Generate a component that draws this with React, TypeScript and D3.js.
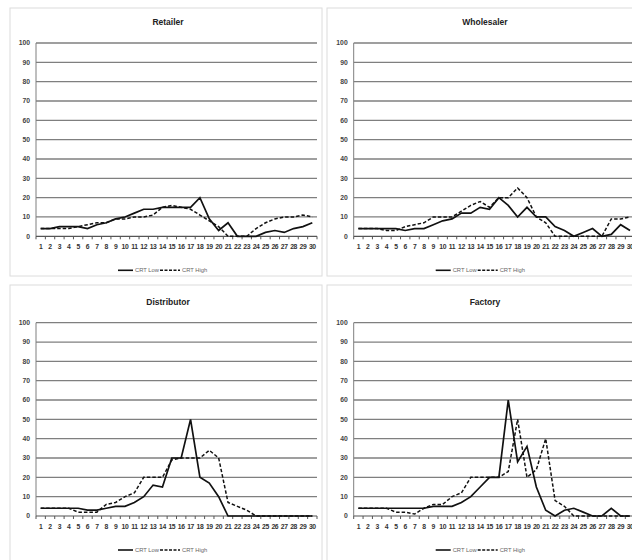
import React, { useRef, useEffect } from 'react';
import * as d3 from 'd3';

const PERIODS = [1, 2, 3, 4, 5, 6, 7, 8, 9, 10, 11, 12, 13, 14, 15, 16, 17, 18, 19, 20, 21, 22, 23, 24, 25, 26, 27, 28, 29, 30];
const Y_TICKS = [0, 10, 20, 30, 40, 50, 60, 70, 80, 90, 100];

const retailerLow = [4, 4, 5, 5, 5, 4, 6, 7, 9, 10, 12, 14, 14, 15, 15, 15, 15, 20, 9, 3, 7, 0, 0, 0, 2, 3, 2, 4, 5, 7];
const retailerHigh = [4, 4, 4, 4, 5, 6, 7, 7, 9, 9, 10, 10, 11, 15, 16, 15, 14, 11, 8, 5, 0, 0, 0, 4, 7, 9, 10, 10, 11, 10];

const wholesalerLow = [4, 4, 4, 4, 4, 3, 4, 4, 6, 8, 9, 12, 12, 15, 14, 20, 16, 10, 15, 10, 10, 5, 3, 0, 2, 4, 0, 1, 6, 3];
const wholesalerHigh = [4, 4, 4, 3, 3, 5, 6, 7, 10, 10, 10, 13, 16, 18, 15, 20, 20, 25, 20, 10, 7, 0, 0, 0, 0, 0, 0, 9, 9, 10];

const distributorLow = [4, 4, 4, 4, 4, 3, 3, 4, 5, 5, 7, 10, 16, 15, 30, 30, 50, 20, 17, 10, 0, 0, 0, 0, 0, 0, 0, 0, 0, 0];
const distributorHigh = [4, 4, 4, 4, 2, 2, 2, 6, 7, 10, 12, 20, 20, 20, 29, 30, 30, 30, 34, 30, 7, 5, 3, 0, 0, 0, 0, 0, 0, 0];

const factoryLow = [4, 4, 4, 4, 4, 4, 4, 4, 5, 5, 5, 7, 10, 15, 20, 20, 60, 28, 36, 15, 3, 0, 3, 4, 2, 0, 0, 4, 0, 0];
const factoryHigh = [4, 4, 4, 4, 2, 2, 1, 4, 6, 6, 10, 12, 20, 20, 20, 20, 23, 50, 20, 24, 40, 8, 5, 0, 0, 0, 0, 0, 0, 0];

const PANELS = [
  { title: 'Retailer', low: retailerLow, high: retailerHigh, box: [10, 8, 268], plot: [36, 43] },
  { title: 'Wholesaler', low: wholesalerLow, high: wholesalerHigh, box: [327, 8, 268], plot: [353.7, 43] },
  { title: 'Distributor', low: distributorLow, high: distributorHigh, box: [10, 285, 290], plot: [36, 322.7] },
  { title: 'Factory', low: factoryLow, high: factoryHigh, box: [327, 285, 290], plot: [353.7, 322.7] },
];

const FONT = 'Liberation Sans, Arial, sans-serif';

export default function App() {
  const svgRef = useRef<SVGSVGElement>(null);

  useEffect(() => {
    const svg = d3.select(svgRef.current);
    svg.selectAll('*').remove();

    svg.append('rect').attr('width', 632).attr('height', 560).attr('fill', 'white');

    PANELS.forEach(p => {
      const [bx, by, bh] = p.box;
      const [left, top] = p.plot;
      const plotW = 281;
      const plotH = 193.3;
      const bottom = top + plotH;

      svg.append('rect')
        .attr('x', bx).attr('y', by)
        .attr('width', 312).attr('height', bh)
        .attr('fill', 'none')
        .attr('stroke', '#dcdcdc')
        .attr('stroke-width', 1);

      const g = svg.append('g');

      const x = d3.scaleBand<number>().domain(PERIODS).range([left, left + plotW]);
      const cx = (d: number) => (x(d) as number) + x.bandwidth() / 2;
      const y = d3.scaleLinear().domain([0, 100]).range([bottom, top]);

      // gridlines
      g.append('g')
        .selectAll('line')
        .data(Y_TICKS.filter(t => t > 0))
        .join('line')
        .attr('x1', left).attr('x2', left + plotW)
        .attr('y1', d => y(d)).attr('y2', d => y(d))
        .attr('stroke', '#7f7f7f')
        .attr('stroke-width', 1.3);

      // y axis
      g.append('line')
        .attr('x1', left).attr('x2', left)
        .attr('y1', top).attr('y2', bottom)
        .attr('stroke', '#7f7f7f').attr('stroke-width', 1);

      g.append('g')
        .selectAll('text')
        .data(Y_TICKS)
        .join('text')
        .attr('x', left - 6)
        .attr('y', d => y(d))
        .attr('dy', '0.35em')
        .attr('text-anchor', 'end')
        .attr('font-size', 6.8)
        .attr('font-weight', 'bold')
        .attr('font-family', FONT)
        .attr('fill', '#444')
        .text(d => d);

      // x axis
      g.append('line')
        .attr('x1', left).attr('x2', left + plotW)
        .attr('y1', bottom).attr('y2', bottom)
        .attr('stroke', '#555').attr('stroke-width', 1.2);

      const edges = [left, ...PERIODS.map(d => (x(d) as number) + x.bandwidth())];
      g.append('g')
        .selectAll('line')
        .data(edges)
        .join('line')
        .attr('x1', d => d).attr('x2', d => d)
        .attr('y1', bottom).attr('y2', bottom + 3)
        .attr('stroke', '#555').attr('stroke-width', 1);

      g.append('g')
        .selectAll('text')
        .data(PERIODS)
        .join('text')
        .attr('x', d => cx(d))
        .attr('y', bottom + 13)
        .attr('text-anchor', 'middle')
        .attr('font-size', 6.8)
        .attr('font-weight', 'bold')
        .attr('letter-spacing', -0.4)
        .attr('font-family', FONT)
        .attr('fill', '#333')
        .text(d => d);

      // title
      g.append('text')
        .attr('x', bx + 158)
        .attr('y', top - 18)
        .attr('text-anchor', 'middle')
        .attr('font-size', 8.5)
        .attr('font-weight', 'bold')
        .attr('font-family', FONT)
        .attr('fill', '#222')
        .text(p.title);

      const line = d3.line<number>()
        .x((_, i) => cx(PERIODS[i]))
        .y(d => y(d));

      g.append('path')
        .datum(p.high)
        .attr('fill', 'none')
        .attr('stroke', '#111')
        .attr('stroke-width', 1.5)
        .attr('stroke-dasharray', '3.5,2')
        .attr('d', line);

      g.append('path')
        .datum(p.low)
        .attr('fill', 'none')
        .attr('stroke', '#111')
        .attr('stroke-width', 1.7)
        .attr('d', line);

      // legend
      const ly = bottom + 34;
      g.append('line')
        .attr('x1', left + 82).attr('x2', left + 97)
        .attr('y1', ly).attr('y2', ly)
        .attr('stroke', '#111').attr('stroke-width', 1.6);
      g.append('text')
        .attr('x', left + 99).attr('y', ly).attr('dy', '0.35em')
        .attr('font-size', 5.8).attr('font-family', FONT).attr('fill', '#666')
        .text('CRT Low');
      g.append('line')
        .attr('x1', left + 124).attr('x2', left + 144)
        .attr('y1', ly).attr('y2', ly)
        .attr('stroke', '#111').attr('stroke-width', 1.4)
        .attr('stroke-dasharray', '3,1.5');
      g.append('text')
        .attr('x', left + 146).attr('y', ly).attr('dy', '0.35em')
        .attr('font-size', 5.8).attr('font-family', FONT).attr('fill', '#666')
        .text('CRT High');
    });
  }, []);

  return (
    <svg
      ref={svgRef}
      width={632}
      height={560}
      style={{ position: 'absolute', left: 0, top: 0, display: 'block' }}
    />
  );
}
